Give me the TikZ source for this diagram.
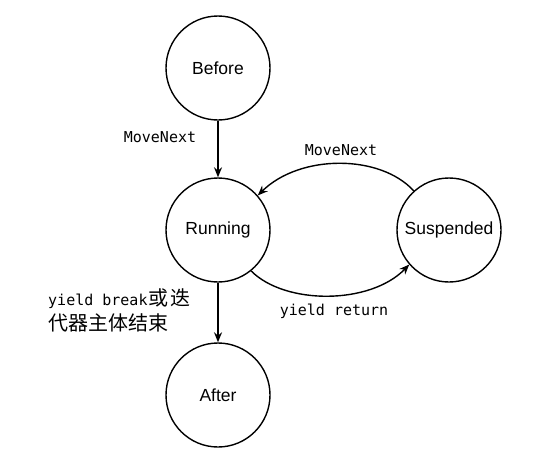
\documentclass[tikz,border=0pt]{standalone}
\usepackage{fontspec}
\setmainfont{Liberation Sans}
\newfontfamily\monof{DejaVu Sans Mono}
\newfontfamily\cjk{Noto Sans CJK SC}
\usetikzlibrary{arrows.meta}
\tikzset{
  state/.style={circle, draw, line width=1.4pt, minimum size=104pt, inner sep=0pt, font=\fontsize{17.5}{20}\selectfont},
  conn/.style={line width=1.4pt, -{Stealth[length=10pt,width=8pt]}},
  lbl/.style={font=\monof\fontsize{15}{18}\selectfont, inner sep=0pt}
}
\begin{document}
\begin{tikzpicture}[x=1pt,y=-1pt]
\useasboundingbox (0,0) rectangle (540,471);
\node[state] (B) at (218,68) {Before};
\node[state] (R) at (218,230) {Running};
\node[state] (S) at (449,230) {Suspended};
\node[state] (A) at (218,395) {After};
\draw[conn] (B) -- (R);
\draw[conn] (R) -- (A);
\draw[conn] (S.132) .. controls (380,154) and (300,154) .. (R.41);
\draw[conn] (R.-51) .. controls (285,305) and (370,305) .. (S.221);
\node[lbl] (l1) at (160,137) {MoveNext};
\node[lbl] (l2) at (341,150) {MoveNext};
\node[lbl] (l3) at (334,311) {yield return};
\node[lbl, anchor=west, align=left, font=\fontsize{15}{25}\selectfont] (l4) at (48,310)
  {{\monof yield break}{\cjk\fontsize{20}{25}\selectfont\hspace{1pt}或\hspace{2pt}迭}\\{\cjk\fontsize{20}{25}\selectfont 代器主体结束}};
\end{tikzpicture}
\end{document}
